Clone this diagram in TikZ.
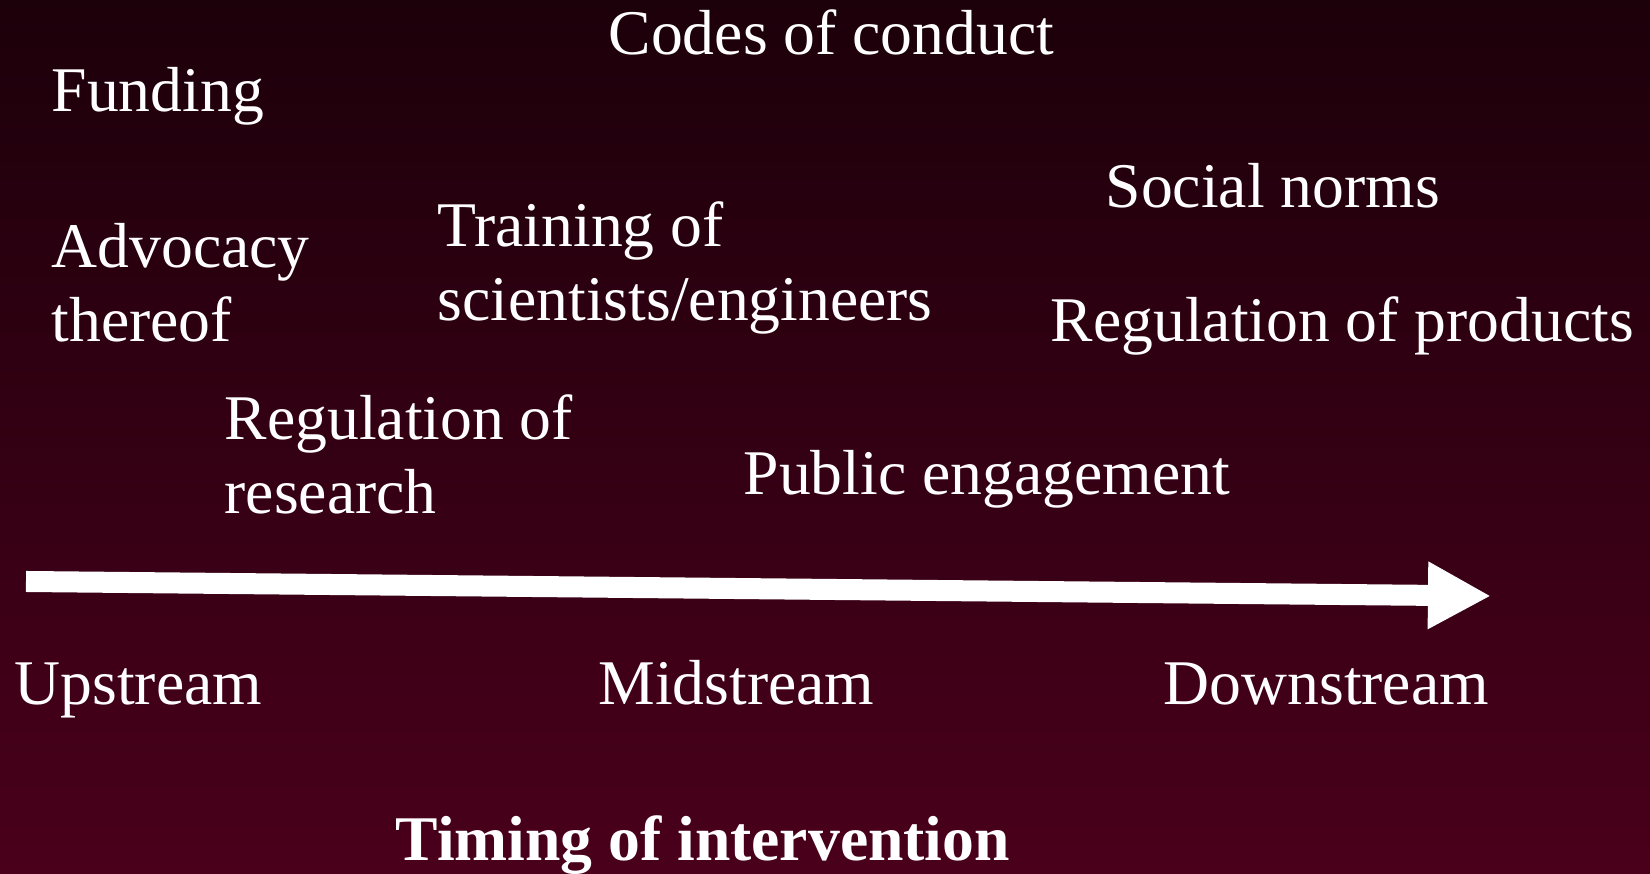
\documentclass[tikz,border=0pt]{standalone}
\usepackage{fontspec}
\setmainfont{Liberation Serif}
\usepackage{tikz}
\usetikzlibrary{arrows.meta}
\usepackage{xcolor}
\definecolor{bgtop}{RGB}{28,0,10}
\definecolor{bgbot}{RGB}{74,0,27}
\newcommand{\txtsize}{\fontsize{18.1}{21.2}\selectfont}
% label at the baseline of its last line
\newcommand{\tlabel}[4]{\node[lbl] (#1) at (#2,#3) {#4};}

\begin{document}
\begin{tikzpicture}[x=0.01cm,y=-0.01cm,
		lbl/.style={text=white,font=\txtsize,inner sep=0pt,anchor=base west,align=left}]

		\coordinate (O) at (0,0);
		\shade[top color=bgtop,bottom color=bgbot] (O) rectangle (1650,874);
		\useasboundingbox (O) rectangle (1650,874);

		% measures
		\tlabel{codes}{608}{55}{Codes of conduct}
		\tlabel{fund}{51}{112}{Funding}
		\tlabel{advoc}{51}{342}{Advocacy\\thereof}
		\tlabel{train}{437}{321}{Training of\\scientists/engineers}
		\tlabel{social}{1105}{208}{Social norms}
		\tlabel{regprod}{1050}{342}{Regulation of products}
		\tlabel{regres}{224}{514}{Regulation of\\research}
		\tlabel{public}{743}{495}{Public engagement}

		% the time axis
		\coordinate (start) at (26,581.5);
		\coordinate (end) at (1491,596);
		\draw[white,line width=0.21cm,-{Triangle[length=0.63cm,width=0.63cm]}] (start) -- (end);

		\tlabel{up}{14}{705}{Upstream}
		\tlabel{mid}{598}{705}{Midstream}
		\tlabel{down}{1163}{705}{Downstream}

		\tlabel{timing}{395}{861}{\bfseries Timing of intervention}
\end{tikzpicture}
\end{document}
